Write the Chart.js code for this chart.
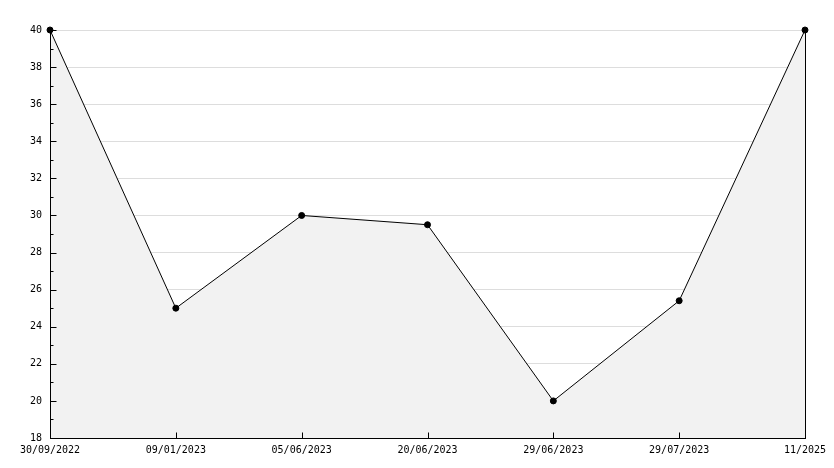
<!DOCTYPE html>
<html>
<head>
<meta charset="utf-8">
<script src="https://cdn.jsdelivr.net/npm/chart.js@4.4.0/dist/chart.umd.min.js"></script>
<style>
  html, body { margin: 0; padding: 0; background: #fff; }
  #wrap { width: 834px; height: 468px; }
</style>
</head>
<body>
<div id="wrap"><canvas id="chart"></canvas></div>
<script>
const dates = ["30/09/2022", "09/01/2023", "05/06/2023", "20/06/2023", "29/06/2023", "29/07/2023", "11/2025"];
const values = [40, 25, 30, 29.5, 20, 25.4, 40];
const yMin = 18;
const yMax = 40;
const yStep = 2;

// axis lines and little tick marks drawn inside the plot, over the fill
const axisMarks = {
  id: "axisMarks",
  afterDatasetsDraw(chart) {
    const ctx = chart.ctx;
    const area = chart.chartArea;
    const y = chart.scales.y;
    const x = chart.scales.x;
    const lx = Math.round(area.left) + 0.5;
    const rx = Math.round(area.right) + 0.5;
    const by = Math.round(area.bottom) + 0.5;
    ctx.save();
    ctx.strokeStyle = "#000";
    ctx.lineWidth = 1;
    ctx.beginPath();
    for (let v = yMin; v <= yMax; v += 1) {
      const py = Math.round(y.getPixelForValue(v)) + 0.5;
      const len = v % yStep === 0 ? 6 : 3;
      ctx.moveTo(lx, py);
      ctx.lineTo(lx + len, py);
    }
    dates.forEach((d, i) => {
      const px = Math.round(x.getPixelForValue(i)) + 0.5;
      ctx.moveTo(px, by);
      ctx.lineTo(px, by - 6);
    });
    ctx.moveTo(lx, area.top);
    ctx.lineTo(lx, by);
    ctx.lineTo(rx, by);
    ctx.lineTo(rx, area.top);
    ctx.stroke();
    ctx.restore();
  }
};

new Chart(document.getElementById("chart"), {
  type: "line",
  data: {
    labels: dates,
    datasets: [{
      data: values,
      borderColor: "#000",
      borderWidth: 1,
      backgroundColor: "#f2f2f2",
      fill: "origin",
      tension: 0,
      clip: false,
      pointRadius: 3,
      pointBackgroundColor: "#000",
      pointBorderColor: "#000",
      pointBorderWidth: 1
    }]
  },
  options: {
    responsive: true,
    maintainAspectRatio: false,
    animation: false,
    layout: { padding: { left: 0, right: 29, top: 30, bottom: 0 } },
    plugins: {
      legend: { display: false },
      tooltip: { enabled: false }
    },
    scales: {
      x: {
        offset: false,
        grid: { display: false, drawTicks: false },
        border: { display: true, color: "#000", width: 1 },
        ticks: {
          color: "#000",
          font: { family: "DejaVu Sans Mono", size: 10 },
          maxRotation: 0,
          autoSkip: false,
          padding: 6
        },
        afterFit(scale) { scale.height = 30; }
      },
      y: {
        min: yMin,
        max: yMax,
        grid: { color: "#dddddd", drawTicks: false },
        border: { display: true, color: "#000", width: 1 },
        ticks: {
          stepSize: yStep,
          color: "#000",
          font: { family: "DejaVu Sans Mono", size: 10 },
          padding: 8
        },
        afterFit(scale) { scale.width = 50; }
      }
    }
  },
  plugins: [axisMarks]
});
</script>
</body>
</html>
